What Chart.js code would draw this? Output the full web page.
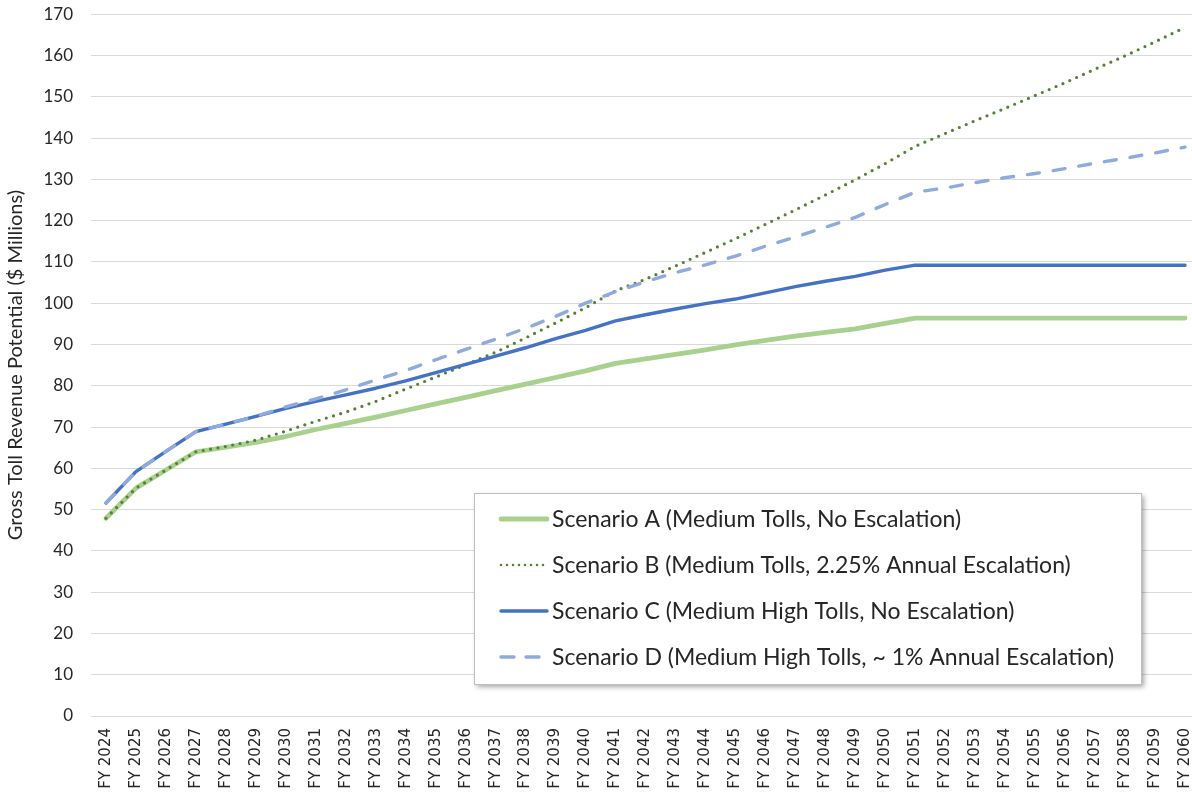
<!DOCTYPE html>
<html lang="en">
<head>
    <meta charset="UTF-8">
    <title>Gross Toll Revenue Potential</title>
    <script src="https://cdn.jsdelivr.net/npm/chart.js"></script>
    <style>
        html, body {
            margin: 0;
            padding: 0;
            background: #ffffff;
            overflow: hidden;
        }
        #wrap {
            width: 1215px;
            height: 797px;
        }
    </style>
</head>
<body>
    <div id="wrap">
        <canvas id="chart" width="1215" height="797"></canvas>
    </div>
    <script>
        // Fiscal years on the x axis
        const years = [
            'FY 2024', 'FY 2025', 'FY 2026', 'FY 2027', 'FY 2028', 'FY 2029', 'FY 2030', 'FY 2031',
            'FY 2032', 'FY 2033', 'FY 2034', 'FY 2035', 'FY 2036', 'FY 2037', 'FY 2038', 'FY 2039',
            'FY 2040', 'FY 2041', 'FY 2042', 'FY 2043', 'FY 2044', 'FY 2045', 'FY 2046', 'FY 2047',
            'FY 2048', 'FY 2049', 'FY 2050', 'FY 2051', 'FY 2052', 'FY 2053', 'FY 2054', 'FY 2055',
            'FY 2056', 'FY 2057', 'FY 2058', 'FY 2059', 'FY 2060'
        ];

        // Gross toll revenue potential, $ millions
        const scenarioA = [
            47.9, 55.2, 59.6, 64.0, 65.1, 66.3, 67.7, 69.4, 70.9, 72.4, 74.0, 75.6, 77.2,
            78.8, 80.4, 82.0, 83.6, 85.4, 86.5, 87.6, 88.7, 89.9, 91.0, 92.0, 92.9, 93.8,
            95.1, 96.4, 96.4, 96.4, 96.4, 96.4, 96.4, 96.4, 96.4, 96.4, 96.4
        ];
        const scenarioB = [
            47.9, 55.2, 59.6, 64.0, 65.3, 66.8, 69.0, 71.4, 73.6, 76.2, 79.2, 82.1, 85.1,
            88.1, 91.6, 95.2, 98.9, 103.0, 105.8, 109.0, 112.3, 115.6, 119.1, 122.6, 126.2, 129.9,
            133.8, 138.0, 141.1, 144.2, 147.2, 150.3, 153.4, 156.7, 159.9, 163.3, 166.8
        ];
        const scenarioC = [
            51.6, 59.2, 64.1, 68.9, 70.7, 72.6, 74.5, 76.2, 77.8, 79.4, 81.2, 83.2, 85.2,
            87.2, 89.2, 91.4, 93.4, 95.7, 97.2, 98.6, 99.9, 101.0, 102.5, 104.0, 105.3, 106.5,
            108.0, 109.2, 109.2, 109.2, 109.2, 109.2, 109.2, 109.2, 109.2, 109.2, 109.2
        ];
        const scenarioD = [
            51.6, 59.2, 64.1, 68.9, 70.7, 72.6, 74.9, 76.8, 79.0, 81.4, 83.7, 86.3, 88.8,
            91.3, 93.9, 96.8, 100.0, 102.8, 105.2, 107.4, 109.3, 111.4, 113.8, 116.0, 118.4, 120.8,
            123.9, 126.9, 127.9, 129.2, 130.4, 131.4, 132.6, 133.9, 135.1, 136.4, 137.8
        ];

        const seriesNames = [
            'Scenario A (Medium Tolls, No Escalation)',
            'Scenario B (Medium Tolls, 2.25% Annual Escalation)',
            'Scenario C (Medium High Tolls, No Escalation)',
            'Scenario D (Medium High Tolls, ~ 1% Annual Escalation)'
        ];

        // legend box drawn inside the plot, Excel style
        const boxLegend = {
            id: 'boxLegend',
            afterDraw(chart, args, opts) {
                const ctx = chart.ctx;
                const x = opts.x, y = opts.y, w = opts.width, h = opts.height;
                ctx.save();
                ctx.shadowColor = 'rgba(0,0,0,0.35)';
                ctx.shadowBlur = 5;
                ctx.shadowOffsetX = 3;
                ctx.shadowOffsetY = 3;
                ctx.fillStyle = '#ffffff';
                ctx.fillRect(x, y, w, h);
                ctx.restore();

                ctx.save();
                ctx.strokeStyle = '#bfbfbf';
                ctx.lineWidth = 1;
                ctx.strokeRect(x + 0.5, y + 0.5, w, h);

                ctx.font = opts.font;
                ctx.fillStyle = '#262626';
                ctx.textBaseline = 'middle';
                chart.data.datasets.forEach((ds, i) => {
                    const rowY = y + opts.firstRow + i * opts.rowGap;
                    ctx.beginPath();
                    ctx.setLineDash(ds.legendDash || ds.borderDash || []);
                    ctx.lineCap = ds.borderCapStyle || 'butt';
                    ctx.lineWidth = ds.legendWidth || ds.borderWidth;
                    ctx.strokeStyle = ds.borderColor;
                    ctx.moveTo(x + 27, rowY);
                    ctx.lineTo(x + 73, rowY);
                    ctx.stroke();
                    ctx.fillText(ds.label, x + 78, rowY + 1);
                });
                ctx.restore();
            }
        };

        const ctx = document.getElementById('chart').getContext('2d');
        new Chart(ctx, {
            type: 'line',
            data: {
                labels: years,
                datasets: [
                    {
                        label: seriesNames[0],
                        data: scenarioA,
                        borderColor: '#a9d18e',
                        borderWidth: 4.8,
                        borderCapStyle: 'round',
                        borderJoinStyle: 'round',
                        order: 4
                    },
                    {
                        label: seriesNames[1],
                        data: scenarioB,
                        borderColor: '#548235',
                        borderWidth: 3.2,
                        borderDash: [0, 7.5],
                        legendDash: [0, 6],
                        legendWidth: 2.6,
                        borderCapStyle: 'round',
                        order: 3
                    },
                    {
                        label: seriesNames[2],
                        data: scenarioC,
                        borderColor: '#4472c4',
                        borderWidth: 3.4,
                        borderCapStyle: 'round',
                        borderJoinStyle: 'round',
                        order: 2
                    },
                    {
                        label: seriesNames[3],
                        data: scenarioD,
                        borderColor: '#8faadc',
                        borderWidth: 3.4,
                        borderDash: [12, 14],
                        legendDash: [13, 12],
                        borderCapStyle: 'round',
                        order: 1
                    }
                ]
            },
            options: {
                responsive: false,
                animation: false,
                layout: {
                    padding: { top: 0, right: 0, left: 0, bottom: 0 }
                },
                elements: {
                    point: { radius: 0, hoverRadius: 0 },
                    line: { tension: 0, fill: false }
                },
                scales: {
                    x: {
                        offset: true,
                        grid: { display: false, drawTicks: false },
                        border: { display: false },
                        ticks: {
                            autoSkip: false,
                            minRotation: 90,
                            maxRotation: 90,
                            padding: 12,
                            color: '#262626',
                            font: { family: 'DejaVu Sans', size: 15 }
                        },
                        afterFit(scale) { scale.height = 81; }
                    },
                    y: {
                        min: 0,
                        max: 170,
                        grid: {
                            color: '#d9d9d9',
                            lineWidth: 1,
                            drawTicks: true,
                            tickLength: 14,
                            tickColor: 'rgba(0,0,0,0)'
                        },
                        border: { display: false },
                        ticks: {
                            stepSize: 10,
                            padding: 4,
                            color: '#262626',
                            font: { family: 'Lato', size: 17 }
                        },
                        title: {
                            display: true,
                            text: 'Gross Toll Revenue Potential ($ Millions)',
                            color: '#262626',
                            font: { family: 'Lato', size: 20 },
                            padding: { top: 4, bottom: 0 }
                        },
                        afterFit(scale) { scale.width = 91; }
                    }
                },
                plugins: {
                    legend: { display: false },
                    tooltip: { enabled: false },
                    boxLegend: {
                        x: 474,
                        y: 493,
                        width: 667,
                        height: 191,
                        firstRow: 26,
                        rowGap: 46,
                        font: '23px Lato'
                    }
                }
            },
            plugins: [boxLegend]
        });
    </script>
</body>
</html>
